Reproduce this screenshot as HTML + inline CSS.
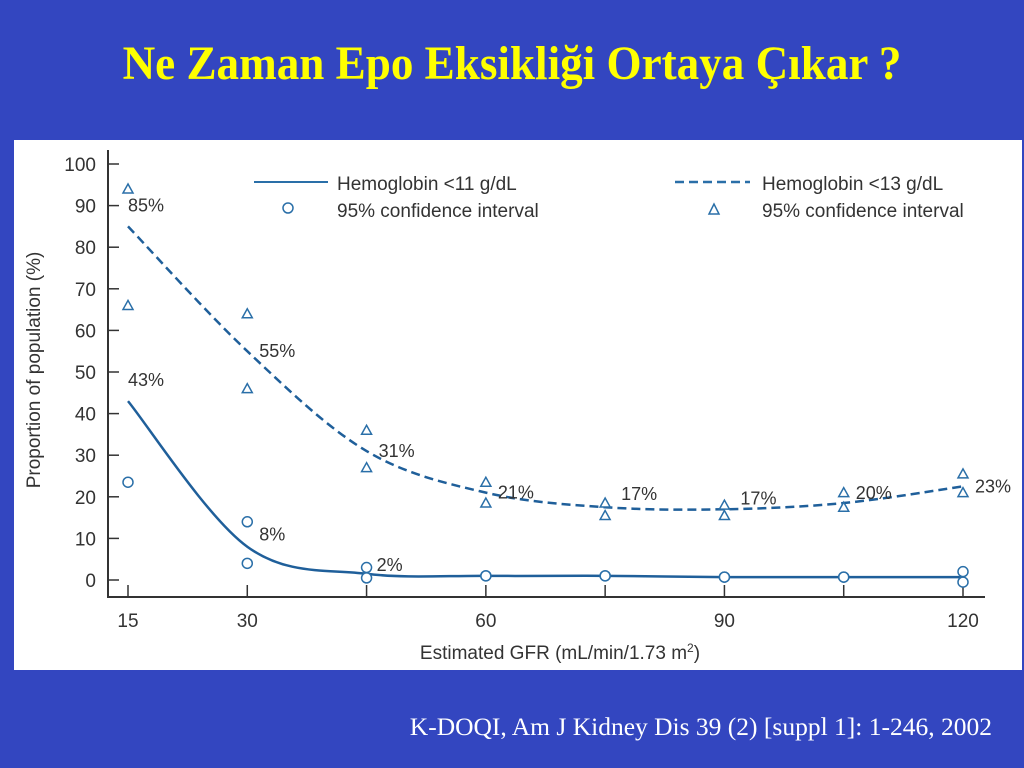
<!DOCTYPE html>
<html><head><meta charset="utf-8">
<style>
body{margin:0;width:1024px;height:768px;background:#3346c0;overflow:hidden;position:relative;font-family:"Liberation Sans",sans-serif}
#title{position:absolute;left:0;top:36px;width:1024px;text-align:center;color:#ffff00;font:bold 48px "Liberation Serif",serif;line-height:56px;transform:scaleX(0.94);transform-origin:center}
#panel{position:absolute;left:14px;top:140px;width:1008px;height:530px;background:#fff}
#src{position:absolute;right:32px;top:712px;color:#fff;font:25.5px "Liberation Serif",serif;line-height:30px}
svg text{font-family:"Liberation Sans",sans-serif;fill:#333}
</style></head><body>
<div id="title">Ne Zaman Epo Eksikliği Ortaya Çıkar ?</div>
<div id="panel"></div>
<svg id="chart" width="1024" height="768" style="position:absolute;left:0;top:0">
<g id="axes"></g><g id="marks"></g>
<text x="0" y="0" transform="translate(40,370) rotate(-90)" text-anchor="middle" font-size="19">Proportion of population (%)</text>
<text x="560" y="659" text-anchor="middle" font-size="19">Estimated GFR (mL/min/1.73 m<tspan font-size="12" dy="-7">2</tspan><tspan dy="7">)</tspan></text>
<g>
<line x1="254" y1="182" x2="328" y2="182" stroke="#2a6fa8" stroke-width="2"/>
<text x="337" y="190" font-size="19">Hemoglobin &lt;11 g/dL</text></g>
<g>
<circle cx="288" cy="208" r="5" fill="none" stroke="#2a6fa8" stroke-width="1.5"/>
<text x="337" y="217" font-size="19">95% confidence interval</text></g>
<g>
<line x1="675" y1="182" x2="750" y2="182" stroke="#2a6fa8" stroke-width="2.5" stroke-dasharray="9,5"/>
<text x="762" y="190" font-size="19">Hemoglobin &lt;13 g/dL</text></g>
<g>
<polygon points="714,204 709,214 719,214" fill="none" stroke="#2a6fa8" stroke-width="1.5"/>
<text x="762" y="217" font-size="19">95% confidence interval</text></g>
</svg>
<div id="src">K-DOQI, Am J Kidney Dis 39 (2) [suppl 1]: 1-246, 2002</div>
<script>
const gfr=[15,30,45,60,75,90,105,120];
const hb11=[43,8,1.5,1,1,0.7,0.7,0.7];
const hb13=[85,55,31,21,17.5,17,18.5,22.5];
const labels11=["43%","8%","2%"];
const labels13=["85%","55%","31%","21%","17%","17%","20%","23%"];
const ci11Hi=[23.5,14,3,1,1,0.7,0.7,2];
const ci11Lo=[null,4,0.5,1,1,0.7,0.7,-0.5];
const ci13Hi=[94,64,36,23.5,18.5,18,21,25.5];
const ci13Lo=[66,46,27,18.5,15.5,15.5,17.5,21];
const yTicks=[0,10,20,30,40,50,60,70,80,90,100];
const xTicks=[15,30,60,90,120];
const NS="http://www.w3.org/2000/svg";
const X=v=>128+(v-15)*(963-128)/105;
const Y=v=>580-v*4.16;
const axes=document.getElementById('axes'),marks=document.getElementById('marks');
function mk(t,a,p){const e=document.createElementNS(NS,t);for(const k in a)e.setAttribute(k,a[k]);p.appendChild(e);return e;}
let e=mk('line',{x1:108,y1:150,x2:108,y2:598,stroke:'#333','stroke-width':2},axes);


e=mk('line',{x1:107,y1:597,x2:985,y2:597,stroke:'#333','stroke-width':2},axes);


yTicks.forEach(v=>{
 mk('line',{x1:108,y1:Y(v),x2:119,y2:Y(v),stroke:'#333','stroke-width':1.5},axes);
 const t=mk('text',{x:96,y:Y(v)+7,'text-anchor':'end','font-size':19},axes);t.textContent=v;
 
 
});
gfr.forEach(v=>{mk('line',{x1:X(v),y1:597,x2:X(v),y2:585,stroke:'#333','stroke-width':1.5},axes);});
xTicks.forEach(v=>{
 const t=mk('text',{x:X(v),y:627,'text-anchor':'middle','font-size':19},axes);t.textContent=v;
 
 
});
function smooth(vals){
 const p=vals.map((v,i)=>[X(gfr[i]),Y(v)]);let d='M'+p[0][0]+','+p[0][1];
 for(let i=0;i<p.length-1;i++){const p0=p[i-1]||p[i],p1=p[i],p2=p[i+1],p3=p[i+2]||p2;
  d+=` C${p1[0]+(p2[0]-p0[0])/6},${p1[1]+(p2[1]-p0[1])/6} ${p2[0]-(p3[0]-p1[0])/6},${p2[1]-(p3[1]-p1[1])/6} ${p2[0]},${p2[1]}`;}
 return d;}
e=mk('path',{d:smooth(hb13),fill:'none',stroke:'#1f5f9a','stroke-width':2.5,'stroke-dasharray':'9,5'},marks);


e=mk('path',{d:smooth(hb11),fill:'none',stroke:'#1f5f9a','stroke-width':2.5},marks);


function circ(v,i){if(v==null)return;const c=mk('circle',{cx:X(gfr[i]),cy:Y(v),r:5,fill:'#fff',stroke:'#2a6fa8','stroke-width':1.5},marks);
 
 }
function tri(v,i){const x=X(gfr[i]),y=Y(v);const t=mk('polygon',{points:`${x},${y-5} ${x-5},${y+4} ${x+5},${y+4}`,fill:'#fff',stroke:'#2a6fa8','stroke-width':1.5},marks);
 
 }
ci11Hi.forEach(circ);ci11Lo.forEach(circ);ci13Hi.forEach(tri);ci13Lo.forEach(tri);
const off13=[[0,-15],[12,6],[12,6],[12,6],[16,-7],[16,-5],[12,-4],[12,6]];
labels13.forEach((s,i)=>{const t=mk('text',{x:X(gfr[i])+off13[i][0],y:Y(hb13[i])+off13[i][1],'font-size':18},marks);t.textContent=s;
 
 });
const off11=[[0,-15],[12,-6],[10,-3]];
labels11.forEach((s,i)=>{const t=mk('text',{x:X(gfr[i])+off11[i][0],y:Y(hb11[i])+off11[i][1],'font-size':18},marks);t.textContent=s;
 
 });
</script>
</body></html>
